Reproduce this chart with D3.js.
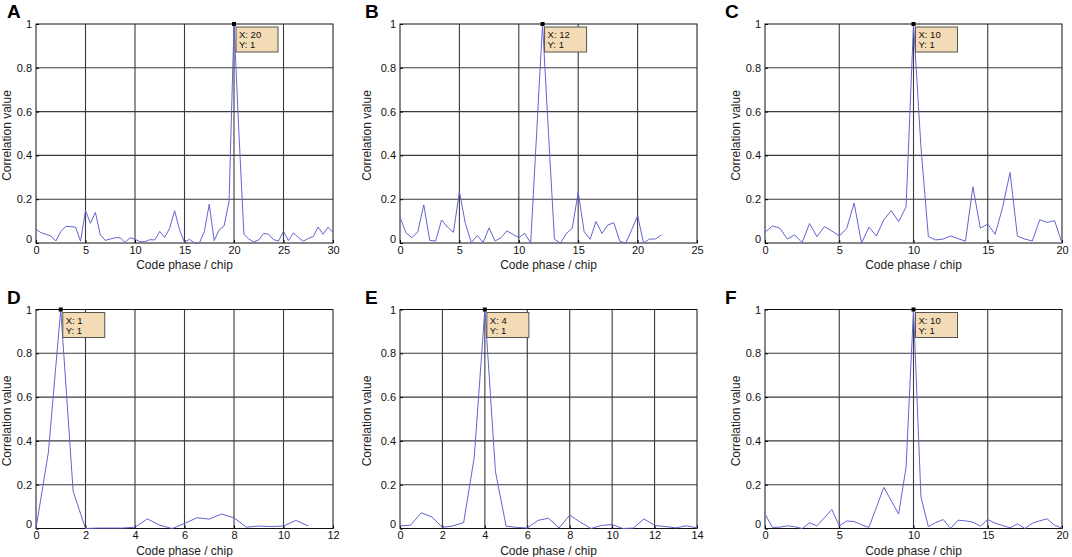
<!DOCTYPE html>
<html>
<head>
<meta charset="utf-8">
<script src="https://cdn.jsdelivr.net/npm/d3@7"></script>
<style>
  html, body { margin: 0; padding: 0; background: #fff; }
  svg { display: block; font-family: Arial, "Liberation Sans", Helvetica, sans-serif; }
</style>
</head>
<body>
<svg id="chart" width="1072" height="557"></svg>
<script>
// ---- data (sampled every 0.5 chip, starting at 0) ----
const panelLetters = ["A", "B", "C", "D", "E", "F"];
const xMaxes = [30, 25, 20, 12, 14, 20];
const xTickSteps = [5, 5, 5, 2, 2, 5];
const yTicks = [0, 0.2, 0.4, 0.6, 0.8, 1];
const yTickLabels = ["0", "0.2", "0.4", "0.6", "0.8", "1"];
const sampleStep = 0.5;
const peakX = [20, 12, 10, 1, 4, 10];
const peakY = [1, 1, 1, 1, 1, 1];
const xLabel = "Code phase / chip";
const yLabel = "Correlation value";

const valuesA = [0.063, 0.047, 0.040, 0.032, 0.009, 0.052, 0.076, 0.075, 0.072, 0.008,
  0.148, 0.090, 0.140, 0.037, 0.012, 0.018, 0.024, 0.024, 0.003, 0.024,
  0.017, 0.006, 0.006, 0.015, 0.014, 0.053, 0.026, 0.067, 0.148, 0.060,
  0.003, 0.017, 0.000, 0.000, 0.052, 0.177, 0.011, 0.060, 0.078, 0.190,
  1.000, 0.500, 0.040, 0.018, 0.005, 0.014, 0.044, 0.040, 0.015, 0.009,
  0.053, 0.011, 0.046, 0.026, 0.008, 0.021, 0.029, 0.073, 0.040, 0.072, 0.047];
const valuesB = [0.118, 0.047, 0.024, 0.052, 0.174, 0.012, 0.009, 0.105, 0.072, 0.049,
  0.235, 0.090, 0.002, 0.034, 0.003, 0.069, 0.009, 0.024, 0.055, 0.040,
  0.024, 0.044, 0.000, 0.500, 1.000, 0.500, 0.017, 0.000, 0.043, 0.067,
  0.232, 0.052, 0.017, 0.098, 0.044, 0.082, 0.093, 0.008, 0.000, 0.060,
  0.125, 0.000, 0.018, 0.018, 0.037];
const valuesC = [0.049, 0.078, 0.068, 0.018, 0.037, 0.002, 0.089, 0.029, 0.075, 0.055,
  0.032, 0.066, 0.182, 0.000, 0.072, 0.032, 0.106, 0.148, 0.097, 0.165,
  1.000, 0.440, 0.029, 0.014, 0.018, 0.032, 0.020, 0.008, 0.257, 0.068,
  0.086, 0.040, 0.163, 0.322, 0.031, 0.018, 0.009, 0.106, 0.094, 0.102, 0.000];
const valuesD = [0.000, 0.348, 1.000, 0.170, 0.000, 0.002, 0.002, 0.002, 0.006, 0.044,
  0.015, 0.000, 0.023, 0.049, 0.043, 0.066, 0.049, 0.006, 0.011, 0.009,
  0.011, 0.037, 0.012];
const valuesE = [0.012, 0.015, 0.072, 0.053, 0.005, 0.012, 0.027, 0.325, 1.000, 0.260,
  0.011, 0.005, 0.002, 0.037, 0.047, 0.002, 0.061, 0.029, 0.000, 0.014,
  0.018, 0.000, 0.002, 0.044, 0.014, 0.009, 0.003, 0.012, 0.003];
const valuesF = [0.066, 0.005, 0.006, 0.012, 0.008, 0.000, 0.026, 0.012, 0.049, 0.087,
  0.012, 0.034, 0.032, 0.017, 0.005, 0.096, 0.188, 0.127, 0.066, 0.280,
  1.000, 0.145, 0.008, 0.027, 0.041, 0.000, 0.038, 0.035, 0.029, 0.011,
  0.041, 0.024, 0.014, 0.003, 0.021, 0.000, 0.024, 0.035, 0.044, 0.015, 0.002];
const allValues = [valuesA, valuesB, valuesC, valuesD, valuesE, valuesF];

// ---- layout ----
const colLeft = [36, 400, 765];
const rowTop = [24, 309.5];
const plotW = 297;
const plotH = 219;
const lineColor = "#6464d2";
const gridColor = "#3a3a3a";

const svg = d3.select("#chart");

allValues.forEach((vals, p) => {
  const col = p % 3, row = Math.floor(p / 3);
  const left = colLeft[col], top = rowTop[row];
  const g = svg.append("g").attr("transform", `translate(${left},${top})`);

  const x = d3.scaleLinear().domain([0, xMaxes[p]]).range([0, plotW]);
  const y = d3.scaleLinear().domain([0, 1]).range([plotH, 0]);
  const xTicks = d3.range(0, xMaxes[p] + 1e-9, xTickSteps[p]);

  g.append("rect").attr("width", plotW).attr("height", plotH).attr("fill", "#fff");

  // grid
  g.append("g").selectAll("line").data(xTicks.slice(1, -1)).join("line")
    .attr("x1", d => x(d)).attr("x2", d => x(d)).attr("y1", 0).attr("y2", plotH)
    .attr("stroke", gridColor).attr("stroke-width", 1.1);
  g.append("g").selectAll("line").data(yTicks.slice(1, -1)).join("line")
    .attr("y1", d => y(d)).attr("y2", d => y(d)).attr("x1", 0).attr("x2", plotW)
    .attr("stroke", gridColor).attr("stroke-width", 1.1);

  // axes (ticks inward)
  const xAxis = d3.axisBottom(x).tickValues(xTicks).tickFormat(d3.format("d")).tickSizeInner(-3).tickSizeOuter(0).tickPadding(3);
  const xa = g.append("g").attr("transform", `translate(0,${plotH})`).call(xAxis);
  xa.select(".domain").remove();
  xa.selectAll("line").attr("stroke", "#000");
  xa.selectAll("text").attr("font-size", 11).attr("fill", "#111").attr("font-family", "Arial, 'Liberation Sans', sans-serif");

  const yAxis = d3.axisLeft(y).tickValues(yTicks).tickFormat((d, i) => yTickLabels[i]).tickSizeInner(-3).tickSizeOuter(0).tickPadding(4);
  const ya = g.append("g").call(yAxis);
  ya.select(".domain").remove();
  ya.selectAll("line").attr("stroke", "#000");
  ya.selectAll("text").attr("font-size", 11).attr("fill", "#111").attr("font-family", "Arial, 'Liberation Sans', sans-serif");
  ya.selectAll(".tick").filter(d => d === 0).select("text").attr("dy", "-0.05em");

  g.append("rect").attr("width", plotW).attr("height", plotH)
    .attr("fill", "none").attr("stroke", "#111").attr("stroke-width", 1);

  // series line
  const line = d3.line().x((d, i) => x(i * sampleStep)).y(d => y(d));
  g.append("path").datum(vals).attr("d", line)
    .attr("fill", "none").attr("stroke", lineColor).attr("stroke-width", 1)
    .attr("stroke-linejoin", "round");

  // data tip
  const px = x(peakX[p]), py = y(peakY[p]);
  g.append("rect").attr("x", px - 2).attr("y", py - 2).attr("width", 4).attr("height", 4).attr("fill", "#000");
  const tip = g.append("g").attr("transform", `translate(${px + 2},${py + 3})`);
  tip.append("rect").attr("width", 42).attr("height", 25)
    .attr("fill", "#f3dbb6").attr("stroke", "#555").attr("stroke-width", 1);
  tip.append("text").attr("x", 3).attr("y", 11).attr("font-size", 9.5).attr("fill", "#111").text(`X: ${peakX[p]}`);
  tip.append("text").attr("x", 3).attr("y", 21).attr("font-size", 9.5).attr("fill", "#111").text(`Y: ${peakY[p]}`);

  // axis titles
  g.append("text").attr("x", plotW / 2).attr("y", plotH + 26).attr("text-anchor", "middle")
    .attr("font-size", 12).attr("fill", "#222").text(xLabel);
  g.append("text").attr("transform", `translate(${col === 1 ? -29 : -25},${plotH / 2 + 2}) rotate(-90)`)
    .attr("text-anchor", "middle").attr("font-size", 12).attr("fill", "#222").text(yLabel);

  // panel letter
  g.append("text").attr("x", [-29, -35, -40][col]).attr("y", -6)
    .attr("font-size", 19).attr("font-weight", "bold").attr("fill", "#000").text(panelLetters[p]);
});
</script>
</body>
</html>
